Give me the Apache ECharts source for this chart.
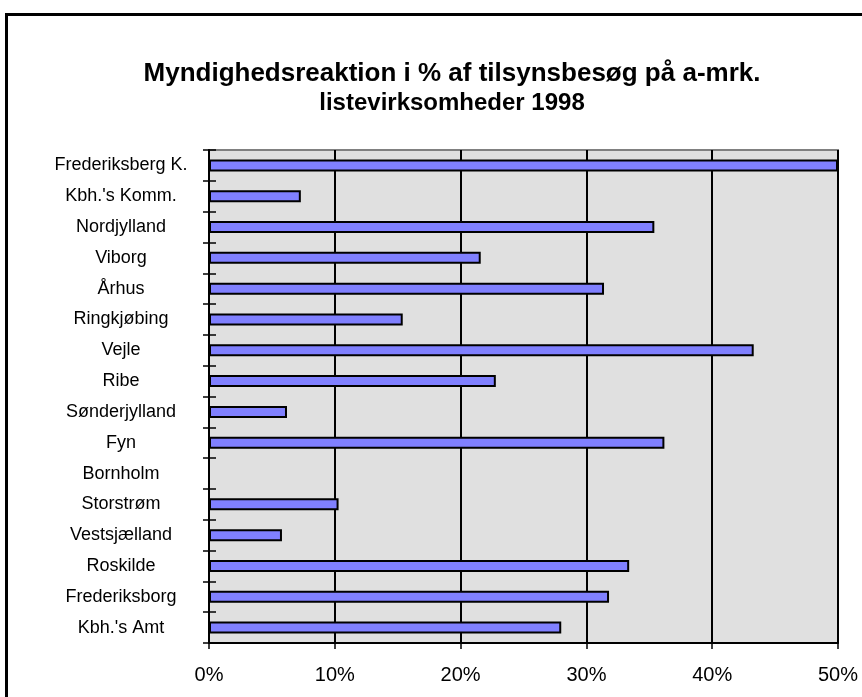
<!DOCTYPE html>
<html>
<head>
<meta charset="utf-8">
<script src="https://cdn.jsdelivr.net/npm/echarts@6/dist/echarts.min.js"></script>
<style>
  html, body { margin: 0; padding: 0; background: #fff; }
  #chart { width: 862px; height: 697px; }
</style>
</head>
<body>
<div id="chart"></div>
<script>
// Counties / municipalities, listed top to bottom
const regions = [
  'Frederiksberg K.', "Kbh.'s Komm.", 'Nordjylland', 'Viborg', 'Århus',
  'Ringkjøbing', 'Vejle', 'Ribe', 'Sønderjylland', 'Fyn', 'Bornholm',
  'Storstrøm', 'Vestsjælland', 'Roskilde', 'Frederiksborg', "Kbh.'s Amt"
];

// Authority reaction as % of inspection visits
const reactionPct = [
  50.0, 7.3, 35.4, 21.6, 31.4,
  15.4, 43.3, 22.8, 6.2, 36.2, 0,
  10.3, 5.8, 33.4, 31.8, 28.0
];

// Value axis ticks (percent)
const pctMin = 0;
const pctMax = 50;
const pctStep = 10;

const titleLines = ['Myndighedsreaktion i % af tilsynsbesøg på a-mrk.', 'listevirksomheder 1998'];

const FONT = '"Liberation Sans", Arial, sans-serif';

const chart = echarts.init(document.getElementById('chart'), null, { renderer: 'canvas' });

chart.setOption({
  backgroundColor: '#ffffff',
  animation: false,
  graphic: [
    {
      type: 'rect',
      shape: { x: 6.5, y: 14.5, width: 1000, height: 1000 },
      style: { fill: 'none', stroke: '#000', lineWidth: 3 },
      z: 100
    },
    {
      type: 'text',
      x: 452, y: 74,
      style: {
        text: titleLines[0],
        align: 'center', verticalAlign: 'middle',
        textAlign: 'center', textVerticalAlign: 'middle',
        font: 'bold 26px ' + FONT, fill: '#000'
      }
    },
    {
      type: 'text',
      x: 452, y: 103,
      style: {
        text: titleLines[1],
        align: 'center', verticalAlign: 'middle',
        textAlign: 'center', textVerticalAlign: 'middle',
        font: 'bold 24px ' + FONT, fill: '#000'
      }
    }
  ],
  grid: {
    left: 209, right: 24, top: 150, bottom: 54,
    show: true,
    backgroundColor: '#e0e0e0',
    borderColor: '#808080',
    borderWidth: 2
  },
  xAxis: {
    type: 'value',
    min: pctMin, max: pctMax, interval: pctStep,
    axisLine: { show: true, lineStyle: { color: '#000', width: 2 } },
    axisTick: { show: true, inside: false, length: 6, lineStyle: { color: '#000', width: 1.5 } },
    splitLine: { show: true, lineStyle: { color: '#000', width: 2 } },
    axisLabel: {
      formatter: '{value}%',
      color: '#000',
      fontFamily: FONT,
      fontSize: 20,
      margin: 22
    }
  },
  yAxis: [
    {
      type: 'category',
      data: regions,
      inverse: true,
      position: 'left',
      axisLine: { show: true, lineStyle: { color: '#000', width: 2 } },
      axisTick: { show: true, inside: false, length: 6, lineStyle: { color: '#000', width: 1.5 } },
      splitLine: { show: false },
      axisLabel: {
        color: '#000',
        fontFamily: FONT,
        fontSize: 18,
        align: 'center',
        margin: 88
      }
    },
    {
      type: 'category',
      data: regions,
      inverse: true,
      position: 'left',
      axisLine: { show: false },
      axisTick: { show: true, inside: true, length: 7, lineStyle: { color: '#000', width: 1.5 } },
      splitLine: { show: false },
      axisLabel: { show: false }
    }
  ],
  series: [
    {
      type: 'bar',
      yAxisIndex: 0,
      data: reactionPct,
      barWidth: 12,
      itemStyle: {
        color: '#8080ff',
        borderColor: '#000',
        borderWidth: 2
      },
      z: 3
    }
  ]
});
</script>
</body>
</html>
